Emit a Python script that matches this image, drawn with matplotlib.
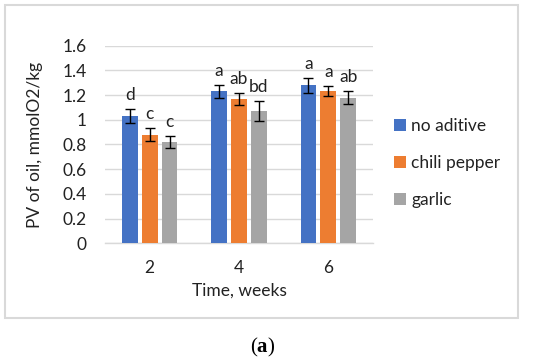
import numpy as np
import matplotlib.pyplot as plt
from matplotlib.patches import Rectangle

# donnees
weeks = ["2", "4", "6"]
series = ["no aditive", "chili pepper", "garlic"]
no_aditive = [1.03, 1.23, 1.28]
chili_pepper = [0.88, 1.17, 1.23]
garlic = [0.82, 1.07, 1.18]
err_no_aditive = [0.06, 0.05, 0.06]
err_chili_pepper = [0.05, 0.05, 0.04]
err_garlic = [0.05, 0.08, 0.05]
letters_no_aditive = ["d", "a", "a"]
letters_chili_pepper = ["c", "ab", "a"]
letters_garlic = ["c", "bd", "ab"]

colors = ["#4472C4", "#ED7D31", "#A5A5A5"]
values = [no_aditive, chili_pepper, garlic]
errors = [err_no_aditive, err_chili_pepper, err_garlic]
letters = [letters_no_aditive, letters_chili_pepper, letters_garlic]

plt.rcParams['font.family'] = ['Lato', 'DejaVu Sans']
plt.rcParams['mathtext.fontset'] = 'custom'
plt.rcParams['mathtext.rm'] = 'Liberation Serif'
plt.rcParams['mathtext.bf'] = 'Liberation Serif:bold'
fs = 12.5

fig = plt.figure(figsize=(5.5, 3.63), dpi=100)
ax = fig.add_axes([0.191, 0.330, 0.487, 0.544])

x = np.arange(len(weeks))
width = 0.175
step = 0.223
for i in range(3):
    pos = x + (i - 1) * step
    ax.bar(pos, values[i], width, color=colors[i], label=series[i], zorder=3)
    ax.errorbar(pos, values[i], yerr=errors[i], fmt="none", ecolor="black",
                elinewidth=1, capsize=3.5, capthick=1, zorder=4)
    for p, v, e, t in zip(pos, values[i], errors[i], letters[i]):
        ax.annotate(t, (p, v + e), xytext=(0, 6.5), textcoords="offset points",
                    ha="center", va="baseline", fontsize=fs, color="#222222")

ax.set_xlim(-0.5, 2.5)
ax.set_ylim(0, 1.6)
ax.set_yticks(np.arange(0, 1.61, 0.2))
ax.set_yticklabels(["0", "0.2", "0.4", "0.6", "0.8", "1", "1.2", "1.4", "1.6"])
ax.set_xticks(x)
ax.set_xticklabels(weeks)
ax.tick_params(length=0, labelsize=fs, colors="#222222")
ax.tick_params(axis="y", pad=13)
ax.tick_params(axis="x", pad=12)
ax.yaxis.grid(True, color="#d9d9d9", linewidth=1, zorder=0)
for s in ["top", "right", "left"]:
    ax.spines[s].set_visible(False)
ax.spines["bottom"].set_color("#d9d9d9")
ax.spines["bottom"].set_linewidth(1)
ax.set_xlabel("Time, weeks", fontsize=fs, color="#222222", labelpad=5)
ax.set_ylabel("PV of oil, mmolO2/kg", fontsize=fs, color="#222222", labelpad=14)

ax.legend(loc="center left", bbox_to_anchor=(1.02, 0.406), frameon=False,
          fontsize=fs, handlelength=0.7, handleheight=0.7, labelspacing=1.2,
          handletextpad=0.3, labelcolor="#222222")

# cadre
fig.patches.append(Rectangle((0.009, 0.124), 0.933, 0.862, transform=fig.transFigure,
                             fill=False, edgecolor="#d9d9d9", linewidth=1.5))

# legende (a)
fig.text(0.477, 0.044, r"($\mathbf{a}$)", fontsize=15, family="Liberation Serif",
         ha="center", va="center")

plt.savefig("out.png", dpi=100)
